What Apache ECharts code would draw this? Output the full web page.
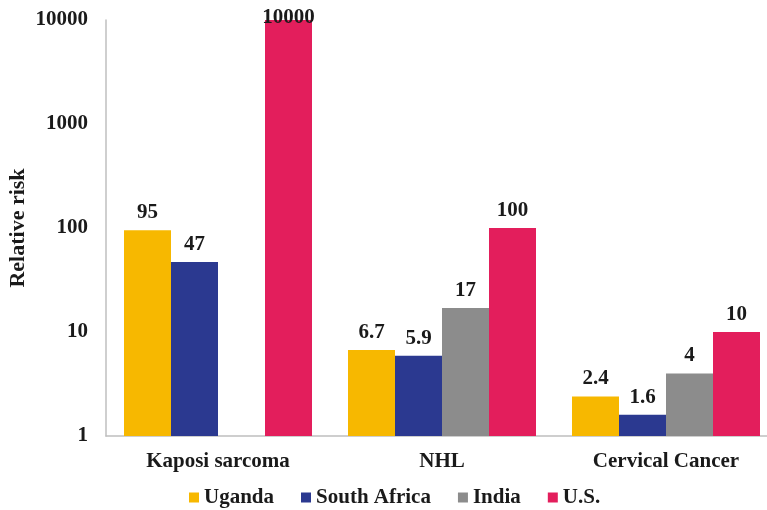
<!DOCTYPE html>
<html>
<head>
<meta charset="utf-8">
<script src="https://cdn.jsdelivr.net/npm/echarts@6/dist/echarts.min.js"></script>
<style>
  html, body { margin: 0; padding: 0; background: #fff; }
  #chart { width: 767px; height: 510px; }
</style>
</head>
<body>
<div id="chart"></div>
<script>
// 数据
const categories = ["Kaposi sarcoma", "NHL", "Cervical Cancer"];
const uganda = [95, 6.7, 2.4];
const southAfrica = [47, 5.9, 1.6];
const india = [null, 17, 4];
const us = [10000, 100, 10];
const yTicks = [1, 10, 100, 1000, 10000];

const FONT = "'Liberation Serif', 'Times New Roman', serif";
const colors = ["#F7B800", "#2B3990", "#8C8C8C", "#E31E5C"];
const yMax = yTicks[yTicks.length - 1];

const makeSeries = (name, data, color) => ({
    name,
    type: "bar",
    // 顶格的柱子标签压在柱顶上
    data: data.map(v => {
        if (v === null) return "-";
        if (v >= yMax) return { value: v, label: { distance: -8 } };
        return v;
    }),
    barWidth: 47,
    barGap: "0%",
    itemStyle: { color },
    label: {
        show: true,
        position: "top",
        distance: 7,
        color: "#1a1a1a",
        fontFamily: FONT,
        fontWeight: "bold",
        fontSize: 21,
    },
});

const chart = echarts.init(document.getElementById("chart"));
chart.setOption({
    animation: false,
    textStyle: { fontFamily: FONT },
    grid: { left: 106, right: -11, top: 20, bottom: 74, containLabel: false, outerBoundsMode: "none" },
    legend: {
        top: 482,
        left: 184,
        itemWidth: 10,
        itemHeight: 10,
        itemGap: 27,
        icon: "rect",
        textStyle: { fontFamily: FONT, fontWeight: "bold", fontSize: 21, color: "#1a1a1a" },
        data: ["Uganda", "South Africa", "India", "U.S."],
    },
    xAxis: {
        type: "category",
        data: categories,
        axisLine: { lineStyle: { color: "#BFBFBF", width: 1.5 } },
        axisTick: { show: false },
        axisLabel: {
            color: "#1a1a1a",
            fontFamily: FONT,
            fontWeight: "bold",
            fontSize: 21,
            margin: 15,
        },
    },
    yAxis: {
        type: "log",
        logBase: 10,
        min: yTicks[0],
        max: yMax,
        name: "Relative risk",
        nameLocation: "middle",
        nameGap: 77,
        nameMoveOverlap: false,
        nameRotate: 90,
        nameTextStyle: { color: "#1a1a1a", fontFamily: FONT, fontWeight: "bold", fontSize: 22 },
        axisLine: { show: true, lineStyle: { color: "#BFBFBF", width: 1.5 } },
        axisTick: { show: false },
        splitLine: { show: false },
        axisLabel: {
            color: "#1a1a1a",
            fontFamily: FONT,
            fontWeight: "bold",
            fontSize: 21,
            margin: 18,
            formatter: v => String(v),
        },
    },
    series: [
        makeSeries("Uganda", uganda, colors[0]),
        makeSeries("South Africa", southAfrica, colors[1]),
        makeSeries("India", india, colors[2]),
        makeSeries("U.S.", us, colors[3]),
    ],
});
</script>
</body>
</html>
